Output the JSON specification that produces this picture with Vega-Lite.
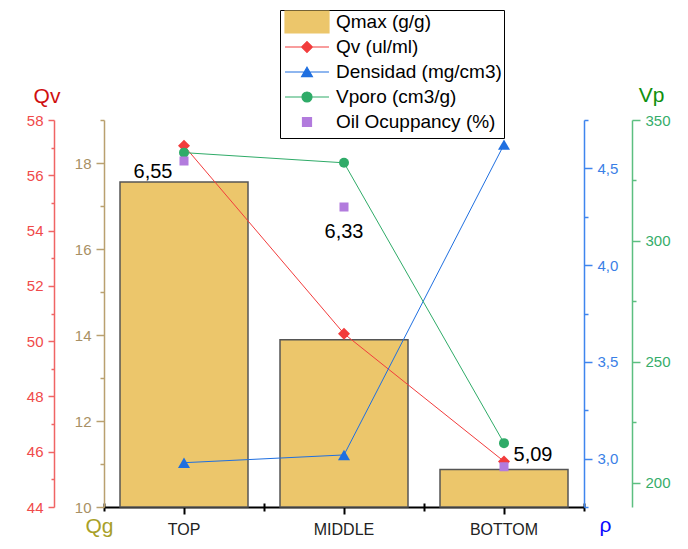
{
  "$schema": "https://vega.github.io/schema/vega-lite/v6.json",
  "width": 480,
  "height": 387,
  "autosize": {"type": "none"},
  "padding": {"left": 104, "top": 120, "right": 104, "bottom": 42},
  "background": "white",
  "config": {
    "font": "Liberation Sans",
    "view": {"stroke": null},
    "locale": {"number": {"decimal": ",", "thousands": ".", "grouping": [3], "currency": ["", " €"]}},
    "axis": {"grid": false, "labelFont": "Liberation Sans", "titleFont": "Liberation Sans", "titleFontWeight": "normal", "labelFontSize": 15, "titleFontSize": 21, "titleAngle": 0, "titleAlign": "center", "titleBaseline": "alphabetic"}
  },
  "data": {
    "values": [
      {"zone": "TOP", "Qmax": 17.56, "Qv": 57.07, "Densidad": 2.979, "Vporo": 336.5, "Oil": 6.55},
      {"zone": "MIDDLE", "Qmax": 13.89, "Qv": 50.27, "Densidad": 3.019, "Vporo": 332.3, "Oil": 6.33},
      {"zone": "BOTTOM", "Qmax": 10.875, "Qv": 45.65, "Densidad": 4.623, "Vporo": 216.4, "Oil": 5.09}
    ]
  },
  "resolve": {"scale": {"y": "independent"}, "axis": {"y": "independent", "x": "independent"}},
  "layer": [
    {
      "resolve": {"axis": {"y": "independent", "x": "independent"}},
      "layer": [
        {
          "mark": {"type": "bar", "width": {"band": 0.8}},
          "encoding": {
            "x": {
              "field": "zone", "type": "nominal", "sort": null,
              "scale": {"domain": ["TOP", "MIDDLE", "BOTTOM"], "paddingInner": 0, "paddingOuter": 0},
              "axis": {"orient": "bottom", "title": null, "bandPosition": 0.5, "labelAngle": 0, "domainColor": "black", "domainWidth": 2, "tickColor": "black", "tickWidth": 2, "tickSize": 7, "labelFontSize": 16, "labelColor": "#222222", "labelPadding": 7}
            },
            "y": {
              "field": "Qmax", "type": "quantitative",
              "scale": {"domain": [10, 19], "nice": false, "zero": false},
              "axis": {
                "orient": "left", "offset": 0, "values": [10, 12, 14, 16, 18],
                "domainColor": "#b9a06f", "domainWidth": 1.5, "tickColor": "#b9a06f", "tickWidth": 1.5, "tickSize": 8, "labelPadding": 5, "labelColor": "#a89064",
                "title": "Qg", "titleColor": "#a8a028", "titleX": -5, "titleY": 412
              }
            },
            "y2": {"datum": 10},
            "color": {
              "datum": "Qmax (g/g)", "type": "nominal",
              "scale": {
                "domain": ["Qmax (g/g)", "Qv (ul/ml)", "Densidad (mg/cm3)", "Vporo (cm3/g)", "Oil Ocuppancy (%)"],
                "range": ["#ecc66b", "#f23c3c", "#1f6fe0", "#2fab68", "#b27bdd"]
              },
              "legend": {
                "orient": "none", "legendX": 176, "legendY": -110, "title": null,
                "padding": 2, "strokeColor": "black", "fillColor": "white",
                "symbolSize": 324, "symbolOffset": 15, "labelOffset": 19, "rowPadding": -3, "labelLimit": 0, "symbolStrokeWidth": 1.2,
                "labelFont": "Liberation Sans", "labelFontSize": 19, "labelColor": "black"
              }
            }
          }
        },
        {
          "mark": {"type": "bar", "width": {"band": 0.8}, "filled": false, "stroke": "#555555", "strokeWidth": 1.5},
          "encoding": {
            "x": {"field": "zone", "type": "nominal", "sort": null,
              "axis": {"orient": "bottom", "title": null, "bandPosition": 0.5, "labels": false, "domain": false, "tickColor": "black", "tickWidth": 2, "tickSize": -7}},
            "y": {
              "field": "Qmax", "type": "quantitative",
              "axis": {"orient": "left", "offset": 0, "values": [11, 13, 15, 17, 19], "labels": false, "domain": false, "title": null, "tickColor": "#b9a06f", "tickWidth": 1.5, "tickSize": 4}
            },
            "y2": {"datum": 10}
          }
        }
      ]
    },
    {
      "resolve": {"axis": {"y": "independent", "x": "independent"}},
      "encoding": {"color": {"datum": "Qv (ul/ml)", "type": "nominal"}},
      "layer": [
        {
          "mark": {"type": "line", "strokeWidth": 1},
          "encoding": {
            "x": {"field": "zone", "type": "nominal", "sort": null,
              "axis": {"orient": "bottom", "title": null, "tickBand": "extent", "labels": false, "domain": false, "tickColor": "black", "tickWidth": 2, "tickSize": 4}},
            "y": {
              "field": "Qv", "type": "quantitative",
              "scale": {"domain": [44, 58], "nice": false, "zero": false},
              "axis": {
                "orient": "left", "offset": 50, "values": [44, 46, 48, 50, 52, 54, 56, 58],
                "domainColor": "#f06464", "domainWidth": 1.5, "tickColor": "#f06464", "tickWidth": 1.5, "tickSize": 6, "labelPadding": 5, "labelColor": "#f04a4a",
                "title": "Qv", "titleColor": "#d01010", "titleX": -7.5, "titleY": -18
              }
            }
          }
        },
        {
          "mark": {"type": "point", "shape": "diamond", "filled": true, "size": 144, "opacity": 1},
          "encoding": {
            "x": {"field": "zone", "type": "nominal", "sort": null,
              "axis": {"orient": "bottom", "title": null, "tickBand": "extent", "labels": false, "domain": false, "tickColor": "black", "tickWidth": 2, "tickSize": -4}},
            "y": {
              "field": "Qv", "type": "quantitative",
              "axis": {"orient": "left", "offset": 50, "values": [45, 47, 49, 51, 53, 55, 57], "labels": false, "domain": false, "title": null, "tickColor": "#f06464", "tickWidth": 1.5, "tickSize": 3}
            }
          }
        }
      ]
    },
    {
      "resolve": {"axis": {"y": "independent"}},
      "encoding": {
        "x": {"field": "zone", "type": "nominal", "sort": null, "axis": null},
        "color": {"datum": "Densidad (mg/cm3)", "type": "nominal"}
      },
      "layer": [
        {
          "mark": {"type": "line", "strokeWidth": 1},
          "encoding": {
            "y": {
              "field": "Densidad", "type": "quantitative",
              "scale": {"domain": [2.75, 4.75], "nice": false, "zero": false},
              "axis": {
                "orient": "right", "offset": 0, "values": [3, 3.5, 4, 4.5], "format": ".1f",
                "domainColor": "#3f85ee", "domainWidth": 1.5, "tickColor": "#3f85ee", "tickWidth": 1.5, "tickSize": 8, "labelPadding": 5, "labelColor": "#3a7fe6",
                "title": "ρ", "titleColor": "#0a0aff", "titleX": 21, "titleY": 411
              }
            }
          }
        },
        {
          "mark": {"type": "point", "shape": "triangle-up", "filled": true, "size": 144, "opacity": 1},
          "encoding": {
            "y": {
              "field": "Densidad", "type": "quantitative",
              "axis": {"orient": "right", "offset": 0, "values": [2.75, 3.25, 3.75, 4.25, 4.75], "labels": false, "domain": false, "title": null, "tickColor": "#3f85ee", "tickWidth": 1.5, "tickSize": 4}
            }
          }
        }
      ]
    },
    {
      "resolve": {"axis": {"y": "independent"}},
      "encoding": {
        "x": {"field": "zone", "type": "nominal", "sort": null, "axis": null},
        "color": {"datum": "Vporo (cm3/g)", "type": "nominal"}
      },
      "layer": [
        {
          "mark": {"type": "line", "strokeWidth": 1},
          "encoding": {
            "y": {
              "field": "Vporo", "type": "quantitative",
              "scale": {"domain": [190, 350], "nice": false, "zero": false},
              "axis": {
                "orient": "right", "offset": 48, "values": [200, 250, 300, 350],
                "domainColor": "#5cbf80", "domainWidth": 1.5, "tickColor": "#5cbf80", "tickWidth": 1.5, "tickSize": 8, "labelPadding": 5, "labelColor": "#36ad6a",
                "title": "Vp", "titleColor": "#109010", "titleX": 19, "titleY": -19
              }
            }
          }
        },
        {
          "mark": {"type": "point", "shape": "circle", "filled": true, "size": 100, "opacity": 1},
          "encoding": {
            "y": {
              "field": "Vporo", "type": "quantitative",
              "axis": {"orient": "right", "offset": 48, "values": [225, 275, 325], "labels": false, "domain": false, "title": null, "tickColor": "#5cbf80", "tickWidth": 1.5, "tickSize": 4}
            }
          }
        }
      ]
    },
    {
      "encoding": {
        "x": {"field": "zone", "type": "nominal", "sort": null, "axis": null},
        "y": {
          "field": "Oil", "type": "quantitative",
          "scale": {"domain": [4.898, 6.746], "nice": false, "zero": false},
          "axis": null
        }
      },
      "layer": [
        {"mark": {"type": "point", "filled": true, "size": 324, "opacity": 1},
         "encoding": {
           "color": {"datum": "Oil Ocuppancy (%)", "type": "nominal"},
           "shape": {
             "datum": "Oil Ocuppancy (%)", "type": "nominal",
             "scale": {
               "domain": ["Qmax (g/g)", "Qv (ul/ml)", "Densidad (mg/cm3)", "Vporo (cm3/g)", "Oil Ocuppancy (%)"],
               "range": [
                 "M-2.444,-1.222H2.444V1.222H-2.444Z",
                 "M-2.444,0H2.444M0,-0.6L0.6,0L0,0.6L-0.6,0Z M0,-1.222L0,-1.222M0,1.222L0,1.222",
                 "M-2.444,0H2.444M0,-0.52L0.6,0.52L-0.6,0.52Z M0,-1.222L0,-1.222M0,1.222L0,1.222",
                 "M-2.444,0H2.444M-0.556,0A0.556,0.556,0,1,0,0.556,0A0.556,0.556,0,1,0,-0.556,0Z M0,-1.222L0,-1.222M0,1.222L0,1.222",
                 "M-0.5,-0.5H0.5V0.5H-0.5Z M0,-1.222L0,-1.222M0,1.222L0,1.222"
               ]
             },
             "legend": {
               "orient": "none", "legendX": 176, "legendY": -110, "title": null,
               "padding": 2, "strokeColor": "black", "fillColor": "white",
               "symbolSize": 324, "symbolOffset": 15, "labelOffset": 19, "rowPadding": -3, "labelLimit": 0, "symbolStrokeWidth": 1.2,
               "labelFont": "Liberation Sans", "labelFontSize": 19, "labelColor": "black"
             }
           }
         }},
        {"transform": [{"filter": "datum.zone === 'TOP'"}],
         "mark": {"type": "text", "dx": -31, "dy": 11, "fontSize": 20, "color": "black"},
         "encoding": {"text": {"field": "Oil", "type": "quantitative", "format": ".2f"}}},
        {"transform": [{"filter": "datum.zone === 'MIDDLE'"}],
         "mark": {"type": "text", "dx": 0, "dy": 25, "fontSize": 20, "color": "black"},
         "encoding": {"text": {"field": "Oil", "type": "quantitative", "format": ".2f"}}},
        {"transform": [{"filter": "datum.zone === 'BOTTOM'"}],
         "mark": {"type": "text", "dx": 29, "dy": -12, "fontSize": 20, "color": "black"},
         "encoding": {"text": {"field": "Oil", "type": "quantitative", "format": ".2f"}}}
      ]
    }
  ]
}
